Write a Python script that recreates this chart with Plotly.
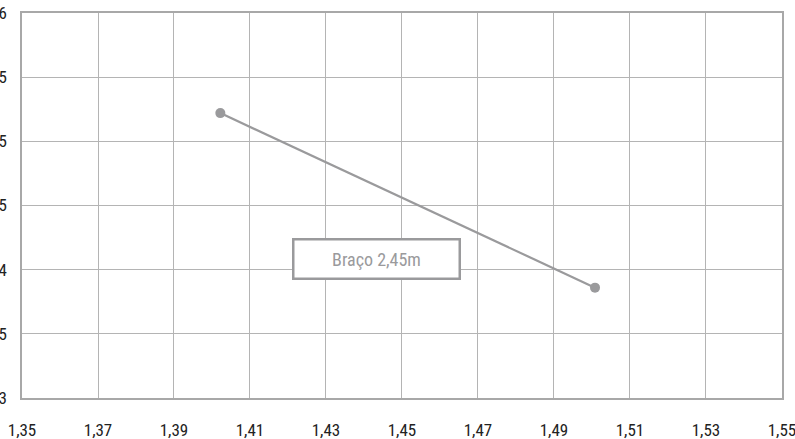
import plotly.graph_objects as go

x_vals = [1.4022, 1.5008]
y_vals = [0.000522, 0.000386]
x_ticks = [1.35, 1.37, 1.39, 1.41, 1.43, 1.45, 1.47, 1.49, 1.51, 1.53, 1.55]
y_ticks = [0.0003, 0.00035, 0.0004, 0.00045, 0.0005, 0.00055, 0.0006]
y_tick_labels = ["0,0003", "0,00035", "0,0004", "0,00045", "0,0005", "0,00055", "0,0006"]
label_text = "Braço 2,45m"
label_pos = (1.4433, 0.000408)

FONT = "Liberation Sans Narrow, Roboto Condensed, Roboto, sans-serif"

fig = go.Figure()
fig.add_trace(go.Scatter(
    x=x_vals, y=y_vals, mode="lines+markers",
    line=dict(color="#9a9a9c", width=2.2),
    marker=dict(color="#9a9a9c", size=10),
    showlegend=False, hoverinfo="skip",
))

fig.add_annotation(
    x=label_pos[0], y=label_pos[1], text=label_text, showarrow=False,
    font=dict(family=FONT, size=18, color="#9a9a9c"),
    bordercolor="#9a9a9c", borderwidth=2.5, bgcolor="white",
    width=162, height=35, align="center",
)

fig.update_layout(
    width=795, height=439,
    margin=dict(l=22, r=13, t=13, b=41),
    paper_bgcolor="white", plot_bgcolor="white",
    separators=",.",
    font=dict(family=FONT, size=17, color="#222"),
    xaxis=dict(
        range=[1.35, 1.55001], tickvals=x_ticks, tickformat=".2f",
        showgrid=True, gridcolor="#b4b4b4", gridwidth=1,
        showline=True, linecolor="#a8a8a8", linewidth=1.5, mirror=True,
        zeroline=False, ticks="", ticklabelstandoff=16, automargin=False,
        ticklabeloverflow="allow",
    ),
    yaxis=dict(
        range=[0.0003, 0.0006], tickvals=y_ticks, ticktext=y_tick_labels,
        showgrid=True, gridcolor="#b4b4b4", gridwidth=1,
        showline=True, linecolor="#a8a8a8", linewidth=1.5, mirror=True,
        zeroline=False, ticks="", ticklabelstandoff=10, automargin=False,
        ticklabeloverflow="allow",
    ),
)

fig.write_html(
    "out.html",
    config={"displayModeBar": False},
    post_script="document.body.style.margin='0';document.body.style.overflow='hidden';",
)
